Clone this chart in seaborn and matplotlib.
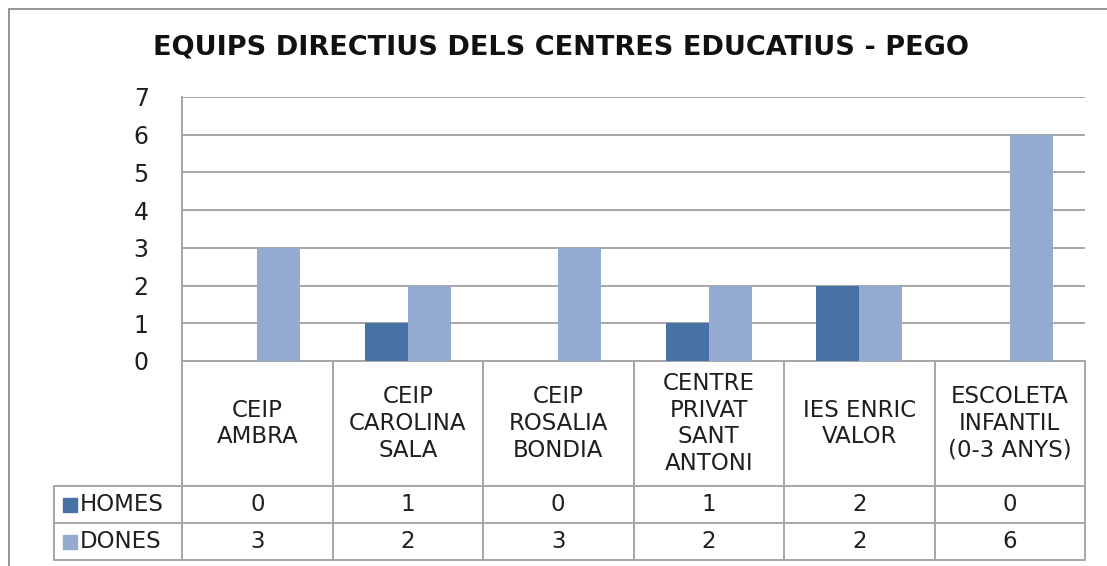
import matplotlib
matplotlib.use('Agg')
import matplotlib.pyplot as plt
from matplotlib.patches import Rectangle
import pandas as pd
import seaborn as sns

centres = ["CEIP\nAMBRA", "CEIP\nCAROLINA\nSALA", "CEIP\nROSALIA\nBONDIA",
           "CENTRE\nPRIVAT\nSANT\nANTONI", "IES ENRIC\nVALOR", "ESCOLETA\nINFANTIL\n(0-3 ANYS)"]
series = ["HOMES", "DONES"]
homes = [0, 1, 0, 1, 2, 0]
dones = [3, 2, 3, 2, 2, 6]
colors = ["#4672A6", "#95AAD1"]
title = "EQUIPS DIRECTIUS DELS CENTRES EDUCATIUS - PEGO"

sns.set_style("white")
plt.rcParams['font.family'] = ['DejaVu Sans']
FONT = 16.5
GRID = "#A6A6A6"
TXT = "#1f1f1f"

df = pd.DataFrame({
    "centre": centres * 2,
    "sexe": ["HOMES"] * len(centres) + ["DONES"] * len(centres),
    "valor": homes + dones,
})

W, H = 1107, 566
fig = plt.figure(figsize=(W / 100, H / 100), dpi=100)
ax = fig.add_axes([182 / W, 1 - 361 / H, 903 / W, 264 / H])

sns.barplot(data=df, x="centre", y="valor", hue="sexe", hue_order=series,
            palette=colors, saturation=1, width=0.57, ax=ax, legend=False,
            edgecolor="none", zorder=3)

ax.set_xlim(-0.5, len(centres) - 0.5)
ax.set_ylim(0, 7)
ax.set_yticks(range(8))
ax.yaxis.grid(True, color=GRID, lw=1.4, zorder=0)
ax.set_axisbelow(True)
ax.set_xlabel("")
ax.set_ylabel("")
ax.set_xticklabels([])
ax.tick_params(axis="x", length=0)
ax.tick_params(axis="y", length=0, pad=24, labelsize=17, labelcolor=TXT)
for s in ["top", "right"]:
    ax.spines[s].set_visible(False)
for s in ["left", "bottom"]:
    ax.spines[s].set_color(GRID)
    ax.spines[s].set_linewidth(1.4)

fig.text(561 / W, 1 - 47 / H, title, ha="center", va="center",
         fontsize=19.5, fontweight="bold", color="#111111")

# data table under the axis
tr = ax.get_xaxis_transform()
ph = 264.0
y_lab = -125 / ph
y_h = -162 / ph
y_d = -199 / ph
x_left = -0.5 - 128 / 150.5
n = len(centres)

def hline(x0, x1, y):
    ax.plot([x0, x1], [y, y], color=GRID, lw=1.4, transform=tr, clip_on=False)

def vline(x, y0, y1):
    ax.plot([x, x], [y0, y1], color=GRID, lw=1.4, transform=tr, clip_on=False)

for i in range(n + 1):
    vline(i - 0.5, 0, y_d)
vline(x_left, y_lab, y_d)
hline(x_left, n - 0.5, y_lab)
hline(x_left, n - 0.5, y_h)
hline(x_left, n - 0.5, y_d)

for i, c in enumerate(centres):
    ax.text(i, y_lab / 2, c, transform=tr, ha="center", va="center",
            fontsize=FONT, linespacing=1.22, color=TXT)
    ax.text(i, (y_lab + y_h) / 2, str(homes[i]), transform=tr, ha="center",
            va="center", fontsize=FONT, color=TXT)
    ax.text(i, (y_h + y_d) / 2, str(dones[i]), transform=tr, ha="center",
            va="center", fontsize=FONT, color=TXT)

for name, col, (ya, yb) in zip(series, colors, [(y_lab, y_h), (y_h, y_d)]):
    yfig = ax.transAxes.transform((0, (ya + yb) / 2))[1] / H
    fig.add_artist(Rectangle((63 / W, yfig - 7 / H), 14 / W, 14 / H,
                             color=col, transform=fig.transFigure))
    fig.text(80 / W, yfig, name, ha="left", va="center",
             fontsize=FONT, color=TXT)

# outer chart frame (only top and left edges visible)
fig.add_artist(Rectangle((9 / W, -0.05), 1.1, 1 - 9 / H + 0.05,
                         transform=fig.transFigure, fill=False,
                         edgecolor="#8C8C8C", lw=1.3))

fig.savefig("out.png", dpi=100)
